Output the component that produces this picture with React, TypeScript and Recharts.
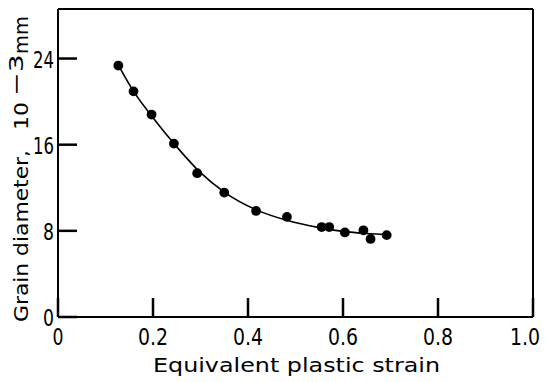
import React from 'react';
import { ComposedChart, Scatter, Line, XAxis, YAxis, ZAxis, ReferenceLine } from 'recharts';

// measured points (strain, grain diameter in 10^-3 mm)
const strain = [0.127, 0.159, 0.197, 0.244, 0.293, 0.35, 0.417, 0.482, 0.555, 0.571, 0.604, 0.643, 0.658, 0.692];
const diameter = [23.35, 20.95, 18.8, 16.1, 13.35, 11.55, 9.85, 9.3, 8.35, 8.35, 7.85, 8.05, 7.25, 7.6];

// fitted curve
const curveStrain = [0.127, 0.16, 0.2, 0.25, 0.3, 0.35, 0.42, 0.48, 0.55, 0.6, 0.65, 0.695];
const curveDiameter = [23.4, 20.9, 18.5, 15.8, 13.4, 11.6, 9.9, 9.0, 8.3, 7.95, 7.75, 7.65];

const xTicks = [0, 0.2, 0.4, 0.6, 0.8, 1.0];
const yTicks = [0, 8, 16, 24];
const xMax = 1;
const yMax = 28.6;

const points = strain.map((x, i) => ({ x, y: diameter[i] }));
const curve = curveStrain.map((x, i) => ({ x, y: curveDiameter[i] }));

const FONT = '"DejaVu Sans", sans-serif';
const TICK_FS = 23;
const TITLE_FS = 20;
const TICK_LEN = 19;

// scanned lettering is narrow, so squeeze each string to its measured width
const fit = (s: string) => (s.length === 1 ? 11 : s.length === 2 ? 21 : 30);

const YTitle = () => {
  // text runs upward from the bottom of the axis
  const common = { fontFamily: FONT, fontSize: TITLE_FS, fill: '#000', lengthAdjust: 'spacingAndGlyphs' as const };
  return (
    <g transform="translate(28, 322) rotate(-90)">
      <text x={0} y={0} textLength={172} {...common}>Grain diameter,</text>
      <text x={192} y={0} textLength={28} {...common}>10</text>
      <text x={226} y={-5} textLength={42} {...common}>−3</text>
      <text x={268} y={0} textLength={38} {...common}>mm</text>
    </g>
  );
};

const XTitle = () => (
  <text
    x={153}
    y={372}
    fontFamily={FONT}
    fontSize={TITLE_FS}
    textLength={287}
    lengthAdjust="spacingAndGlyphs"
    fill="#000"
  >
    Equivalent plastic strain
  </text>
);

// axis titles are drawn with the first tick of each axis
const XTick = (props: any) => {
  const { x, y, payload } = props;
  const v = Number(payload.value);
  const text = v === 0 ? '0' : v.toFixed(1);
  return (
    <g>
      <line x1={x} x2={x} y1={y} y2={y - TICK_LEN} stroke="#000" strokeWidth={2.5} />
      <text
        x={v === xMax ? x - 8 : x}
        y={y + 28}
        textAnchor="middle"
        fontFamily={FONT}
        fontSize={TICK_FS}
        textLength={fit(text)}
        lengthAdjust="spacingAndGlyphs"
        fill="#000"
      >
        {text}
      </text>
      {v === 0 && <XTitle />}
    </g>
  );
};

const YTick = (props: any) => {
  const { x, y, payload } = props;
  const text = String(payload.value);
  const w = fit(text);
  return (
    <g>
      <line x1={x} x2={x + TICK_LEN} y1={y} y2={y} stroke="#000" strokeWidth={2.5} />
      <text
        x={x - 4 - w}
        y={y + 9}
        fontFamily={FONT}
        fontSize={TICK_FS}
        textLength={w}
        lengthAdjust="spacingAndGlyphs"
        fill="#000"
      >
        {text}
      </text>
      {Number(payload.value) === 0 && <YTitle />}
    </g>
  );
};

export default function App() {
  return (
    <div style={{ position: 'absolute', left: 0, top: 0, background: '#fff' }}>
      <ComposedChart width={547} height={382} margin={{ top: 9, right: 14, left: 0, bottom: 0 }}>
        <XAxis
          type="number"
          dataKey="x"
          domain={[0, xMax]}
          ticks={xTicks}
          interval={0}
          tickSize={0}
          tickMargin={0}
          tickLine={false}
          tick={<XTick />}
          axisLine={{ stroke: '#000', strokeWidth: 2 }}
          height={65}
        />
        <YAxis
          type="number"
          dataKey="y"
          domain={[0, yMax]}
          ticks={yTicks}
          interval={0}
          tickSize={0}
          tickMargin={0}
          tickLine={false}
          tick={<YTick />}
          axisLine={{ stroke: '#000', strokeWidth: 2 }}
          width={58}
        />
        <ZAxis range={[75, 75]} />
        <ReferenceLine y={yMax} stroke="#000" strokeWidth={2} ifOverflow="visible" />
        <ReferenceLine x={xMax} stroke="#000" strokeWidth={2} ifOverflow="visible" />
        <Line
          data={curve}
          dataKey="y"
          type="monotone"
          stroke="#000"
          strokeWidth={1.6}
          dot={false}
          isAnimationActive={false}
        />
        <Scatter data={points} fill="#000" isAnimationActive={false} />
      </ComposedChart>
    </div>
  );
}
